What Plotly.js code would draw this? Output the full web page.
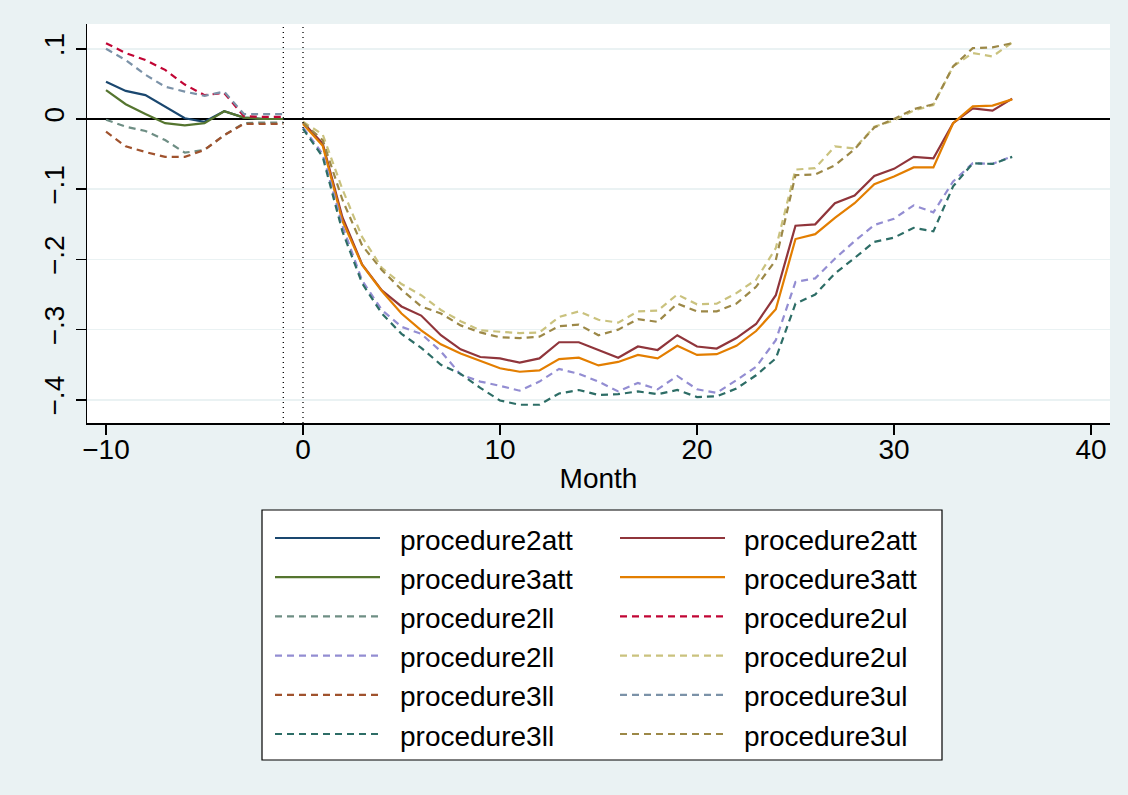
<!DOCTYPE html>
<html>
<head>
<meta charset="utf-8">
<script src="https://cdn.plot.ly/plotly-3.0.1.min.js"></script>
<style>
  html, body { margin: 0; padding: 0; background: #eaf2f3; }
  #chart { width: 1128px; height: 795px; }
</style>
</head>
<body>
<div id="chart"></div>
<script>
// Months relative to the procedure change
const monthsPre = [-10, -9, -8, -7, -6, -5, -4, -3, -2, -1];
const monthsPost = [0, 1, 2, 3, 4, 5, 6, 7, 8, 9, 10, 11, 12, 13, 14, 15, 16, 17, 18,
  19, 20, 21, 22, 23, 24, 25, 26, 27, 28, 29, 30, 31, 32, 33, 34, 35, 36];

// Pre-period estimates
const p2attPre = [0.053, 0.040, 0.034, 0.018, 0.001, -0.004, 0.011, 0.002, 0.000, 0.000];
const p3attPre = [0.041, 0.021, 0.007, -0.006, -0.009, -0.006, 0.011, 0.002, 0.000, 0.000];
const p2llPre = [-0.001, -0.011, -0.017, -0.030, -0.048, -0.044, -0.023, -0.006, -0.005, -0.005];
const p2ulPre = [0.108, 0.094, 0.084, 0.070, 0.049, 0.034, 0.037, 0.004, 0.003, 0.003];
const p3llPre = [-0.018, -0.039, -0.047, -0.054, -0.054, -0.044, -0.023, -0.007, -0.007, -0.007];
const p3ulPre = [0.100, 0.084, 0.063, 0.046, 0.039, 0.033, 0.039, 0.007, 0.007, 0.007];

// Post-period estimates
const p2attPost = [-0.005, -0.035, -0.140, -0.207, -0.244, -0.267, -0.280, -0.308, -0.328, -0.339,
  -0.341, -0.347, -0.341, -0.318, -0.318, -0.329, -0.340, -0.324, -0.329, -0.308,
  -0.324, -0.327, -0.312, -0.292, -0.251, -0.152, -0.150, -0.120, -0.109, -0.081,
  -0.071, -0.054, -0.056, -0.006, 0.015, 0.012, 0.029];
const p3attPost = [-0.007, -0.038, -0.145, -0.208, -0.245, -0.277, -0.301, -0.321, -0.334, -0.344,
  -0.355, -0.360, -0.358, -0.342, -0.340, -0.351, -0.346, -0.336, -0.341, -0.323,
  -0.336, -0.335, -0.323, -0.302, -0.271, -0.171, -0.164, -0.141, -0.120, -0.093,
  -0.082, -0.069, -0.069, -0.006, 0.018, 0.019, 0.028];
const p2llPost = [-0.012, -0.050, -0.152, -0.230, -0.272, -0.296, -0.306, -0.331, -0.364, -0.374,
  -0.380, -0.387, -0.374, -0.356, -0.363, -0.374, -0.388, -0.376, -0.385, -0.366,
  -0.385, -0.390, -0.372, -0.353, -0.315, -0.232, -0.227, -0.199, -0.174, -0.151,
  -0.142, -0.123, -0.133, -0.089, -0.063, -0.064, -0.053];
const p2ulPost = [-0.004, -0.022, -0.100, -0.168, -0.212, -0.235, -0.251, -0.272, -0.288, -0.301,
  -0.303, -0.305, -0.304, -0.282, -0.274, -0.286, -0.290, -0.274, -0.273, -0.250,
  -0.264, -0.263, -0.248, -0.229, -0.184, -0.072, -0.070, -0.039, -0.042, -0.011,
  -0.002, 0.012, 0.020, 0.075, 0.094, 0.089, 0.109];
const p3llPost = [-0.014, -0.054, -0.160, -0.234, -0.277, -0.306, -0.326, -0.350, -0.363, -0.383,
  -0.401, -0.407, -0.407, -0.391, -0.386, -0.393, -0.392, -0.388, -0.392, -0.386,
  -0.396, -0.395, -0.384, -0.365, -0.341, -0.263, -0.250, -0.220, -0.198, -0.175,
  -0.169, -0.155, -0.160, -0.096, -0.063, -0.064, -0.054];
const p3ulPost = [-0.005, -0.030, -0.115, -0.180, -0.215, -0.243, -0.267, -0.277, -0.294, -0.304,
  -0.311, -0.312, -0.310, -0.295, -0.293, -0.308, -0.300, -0.285, -0.289, -0.263,
  -0.274, -0.274, -0.263, -0.239, -0.201, -0.080, -0.079, -0.066, -0.043, -0.012,
  0.000, 0.014, 0.021, 0.075, 0.101, 0.102, 0.108];

// Axis ticks and reference lines
const xTickVals = [-10, 0, 10, 20, 30, 40];
const xTickText = ['\u221210', '0', '10', '20', '30', '40'];
const yTickVals = [-0.4, -0.3, -0.2, -0.1, 0, 0.1];
const yTickText = ['\u2212.4', '\u2212.3', '\u2212.2', '\u2212.1', '0', '.1'];
const refMonths = [-1, 0];

// Series in plotting / legend order
const seriesNames = ['procedure2att', 'procedure2att', 'procedure3att', 'procedure3att',
  'procedure2ll', 'procedure2ul', 'procedure2ll', 'procedure2ul',
  'procedure3ll', 'procedure3ul', 'procedure3ll', 'procedure3ul'];
const seriesX = [monthsPre, monthsPost, monthsPre, monthsPost,
  monthsPre, monthsPre, monthsPost, monthsPost,
  monthsPre, monthsPre, monthsPost, monthsPost];
const seriesY = [p2attPre, p2attPost, p3attPre, p3attPost,
  p2llPre, p2ulPre, p2llPost, p2ulPost,
  p3llPre, p3ulPre, p3llPost, p3ulPost];
const seriesColors = ['#1a476f', '#90353b', '#55752f', '#e37e00',
  '#6e8e84', '#c10534', '#938dd2', '#cac27e',
  '#a0522d', '#7b92a8', '#2d6d66', '#9c8847'];
const seriesDashed = [false, false, false, false, true, true, true, true, true, true, true, true];

const DASH = '7px,5px';
const FONT = 'Liberation Sans, Arial, Helvetica, sans-serif';
const TXT = 28;

const traces = seriesNames.map((name, i) => ({
  type: 'scatter',
  mode: 'lines',
  name: name,
  x: seriesX[i],
  y: seriesY[i],
  line: { color: seriesColors[i], width: 2.2, dash: seriesDashed[i] ? DASH : 'solid' },
  hoverinfo: 'skip',
  showlegend: false
}));

// Plot area geometry (pixels)
const W = 1128, H = 795;
const M = { l: 87, r: 18, t: 24, b: 372 };
const plotW = W - M.l - M.r, plotH = H - M.t - M.b;
const px = v => (v - M.l) / plotW;
const py = v => (H - M.b - v) / plotH;

const shapes = refMonths.map(m => ({
  type: 'line', xref: 'x', yref: 'paper', x0: m, x1: m, y0: 0, y1: 1,
  line: { color: '#000', width: 1.3, dash: '1px,4px' }, layer: 'above'
}));

// Two-column key below the plot
const annotations = [];
const box = { x0: 262, x1: 942, y0: 510, y1: 760 };
shapes.push({
  type: 'rect', xref: 'paper', yref: 'paper',
  x0: px(box.x0), x1: px(box.x1), y0: py(box.y0), y1: py(box.y1),
  fillcolor: '#ffffff', line: { color: '#000', width: 1.2 }, layer: 'above'
});
const colSample = [275, 620], sampleLen = 105, colText = [398, 742];
const rowTop = 538, rowStep = 39.2;
seriesNames.forEach((name, i) => {
  const col = i % 2, row = Math.floor(i / 2);
  const yy = rowTop + row * rowStep;
  shapes.push({
    type: 'line', xref: 'paper', yref: 'paper',
    x0: px(colSample[col]), x1: px(colSample[col] + sampleLen), y0: py(yy), y1: py(yy),
    line: { color: seriesColors[i], width: 2.2, dash: seriesDashed[i] ? DASH : 'solid' },
    layer: 'above'
  });
  annotations.push({
    xref: 'paper', yref: 'paper', x: px(colText[col]), y: py(yy + 2),
    xanchor: 'left', yanchor: 'middle', showarrow: false,
    text: name, font: { family: FONT, size: TXT, color: '#000' }
  });
});

const layout = {
  width: W, height: H,
  margin: M,
  paper_bgcolor: '#eaf2f3',
  plot_bgcolor: '#ffffff',
  font: { family: FONT, color: '#000' },
  showlegend: false,
  xaxis: {
    range: [-10.965, 40.965],
    tickmode: 'array', tickvals: xTickVals, ticktext: xTickText,
    ticks: 'outside', ticklen: 10, tickwidth: 1.5, tickcolor: '#000',
    ticklabelstandoff: -9,
    showline: true, linecolor: '#000', linewidth: 1.5,
    showgrid: false, zeroline: false,
    tickfont: { family: FONT, size: TXT, color: '#000' },
    title: { text: 'Month', font: { family: FONT, size: TXT, color: '#000' }, standoff: 4 }
  },
  yaxis: {
    range: [-0.433, 0.1353],
    tickmode: 'array', tickvals: yTickVals, ticktext: yTickText,
    tickangle: -90,
    ticks: 'outside', ticklen: 10, tickwidth: 1.5, tickcolor: '#000',
    showline: true, linecolor: '#000', linewidth: 1.5,
    showgrid: true, gridcolor: '#eaf2f3', gridwidth: 1.5,
    zeroline: true, zerolinecolor: '#000', zerolinewidth: 1.5,
    tickfont: { family: FONT, size: TXT, color: '#000' }
  },
  shapes: shapes,
  annotations: annotations
};

Plotly.newPlot('chart', traces, layout, { displayModeBar: false, staticPlot: true });
</script>
</body>
</html>
